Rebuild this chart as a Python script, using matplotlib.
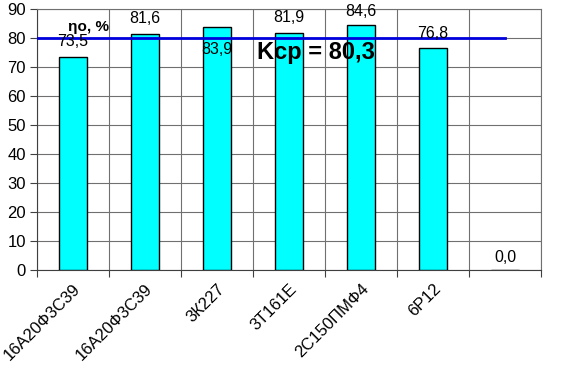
import matplotlib
matplotlib.use("Agg")
import matplotlib.pyplot as plt
import numpy as np

# chart data
categories = ["16А20Ф3С39", "16А20Ф3С39", "3К227", "3Т161Е", "2С150ПМФ4", "6Р12", ""]
values = [73.5, 81.6, 83.9, 81.9, 84.6, 76.8, 0.0]
value_labels = ["73,5", "81,6", "83,9", "81,9", "84,6", "76,8", "0,0"]
k_avg = 80.3
k_avg_label = "Kср = 80,3"
y_label = "ηо, %"
y_ticks = [0, 10, 20, 30, 40, 50, 60, 70, 80, 90]

plt.rcParams['font.family'] = ['Liberation Sans', 'DejaVu Sans']

fig = plt.figure(figsize=(5.65, 3.78), dpi=100)
ax = fig.add_axes([0.0655, 0.2857, 0.892, 0.6893])

x = np.arange(len(categories))
ax.bar(x, values, width=0.4, color='#00FFFF', edgecolor='black', linewidth=1, zorder=3)

# average line from left edge to centre of last category
ax.plot([x[0] - 0.5, x[-1]], [k_avg, k_avg], color='#0000DD', linewidth=2, zorder=4)

# value labels (offset in points; the third one was pushed down inside the bar)
label_offsets = [11, 11, -16, 11, 10, 10, 9]
for xi, v, lab, off in zip(x, values, value_labels, label_offsets):
    ax.annotate(lab, (xi, v), xytext=(0, off), textcoords='offset points',
                ha='center', va='center', fontsize=11.5, zorder=5)

ax.text(0.21, 84.1, y_label, ha='center', va='center', fontsize=11,
        fontweight='bold', zorder=5)
ax.text(3.375, 75.3, k_avg_label, ha='center', va='center', fontsize=17,
        fontweight='bold', zorder=5)

ax.set_xlim(-0.5, len(categories) - 0.5)
ax.set_ylim(0, 90)
ax.set_yticks(y_ticks)
ax.tick_params(axis='y', labelsize=12, length=5, color='#404040', pad=3)

# category gridlines at boundaries, labels at centres
ax.set_xticks(np.arange(len(categories) + 1) - 0.5)
ax.set_xticklabels([])
ax.tick_params(axis='x', which='major', length=5, color='#404040')
ax.set_xticks(x, minor=True)
ax.set_xticklabels(categories, minor=True, rotation=45, ha='right',
                   rotation_mode='anchor', fontsize=12)
ax.tick_params(axis='x', which='minor', length=0, pad=8)

ax.grid(True, which='major', color='#707070', linewidth=0.8, zorder=0)
ax.set_axisbelow(True)
for side in ['left', 'bottom']:
    ax.spines[side].set_color('#404040')
for side in ['top', 'right']:
    ax.spines[side].set_color('#707070')
    ax.spines[side].set_linewidth(0.8)

fig.savefig('out.png', dpi=100)
